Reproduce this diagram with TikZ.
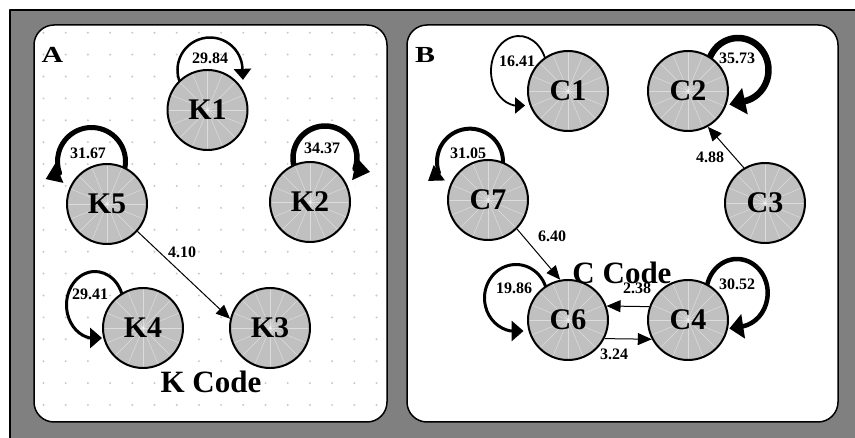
\documentclass[tikz,border=0pt]{standalone}
\usepackage{fontspec}
\setmainfont{Liberation Serif}
\usetikzlibrary{arrows.meta}
\definecolor{bggray}{RGB}{128,128,128}
\definecolor{nodegray}{RGB}{192,192,192}
\definecolor{dotgray}{RGB}{200,200,200}
\begin{document}
\begin{tikzpicture}[x=1pt,y=-1pt,line join=round,
  state/.style={circle, draw=black, line width=2pt, fill=nodegray, minimum size=80pt, inner sep=0pt,
    font=\bfseries\fontsize{30}{30}\selectfont,
    path picture={\foreach \a in {0,22.5,...,337.5}{\draw[white,opacity=0.45,line width=0.5pt] (path picture bounding box.center) -- +(\a:45pt);}}},
  wlabel/.style={font=\bfseries\fontsize{16}{16}\selectfont, inner sep=0pt},
  codelabel/.style={font=\bfseries\fontsize{31}{31}\selectfont, inner sep=0pt, anchor=base},
  panellabel/.style={font=\bfseries\fontsize{23}{23}\selectfont, inner sep=0pt, xscale=1.3},
  edge/.style={draw=black, line width=1pt, -{Triangle[length=14pt,width=12pt]}},
  panel/.style={draw=black, line width=1.5pt, fill=white, rounded corners=20pt},
  glow/.style={fill=white},
]
\useasboundingbox (0,0) rectangle (855,438);
% background
\fill[white] (0,0) rectangle (855,438);
\fill[bggray] (10,10) rectangle (860,445);
\draw[black, line width=2pt] (10,445) -- (10,10) -- (860,10);
% panels
\path[panel] (34,25) rectangle (387,422);
\path[panel] (407,25) rectangle (838,422);
% dots in panel A
\foreach \i in {0,...,15}{\foreach \j in {0,...,17}{\fill[dotgray] (43.5+22.2*\i,32.7+21.9*\j) circle[radius=1.1];}}
% glows
\foreach \p in {(207.5,110),(310,202),(270,328),(143,328),(107,204),(568,91),(688,91),(765,203),(688,320),(568,320),(488,200)}{\fill[glow] \p ++(2,3) circle[radius=47];}
% code labels
\node[codelabel] (kcode) at (211,393) {K Code};
\node[codelabel] (ccode) at (622,284) {C Code};
% nodes (placed to get names), drawn later on top via redraw
\path (207.5,110) coordinate (pK1) (310,202) coordinate (pK2) (270,328) coordinate (pK3)
      (143,328) coordinate (pK4) (107,204) coordinate (pK5)
      (568,91) coordinate (pC1) (688,91) coordinate (pC2) (765,203) coordinate (pC3)
      (688,320) coordinate (pC4) (568,320) coordinate (pC6) (488,200) coordinate (pC7);
% self loops
\draw[line width=2.5pt, -{Triangle[length=11pt,width=17pt]}] ([shift={(2.5,-40)}]pK1) ++(158:32.5) arc[start angle=158, end angle=358, radius=32.5] -- ++(0.5,11);
\draw[line width=5pt, -{Triangle[length=15pt,width=20pt]}] ([shift={(-15.5,-42.5)}]pK5) ++(15:34) arc[start angle=15, end angle=-200, radius=34] -- ++(-14,6);
\draw[line width=5.5pt, -{Triangle[length=16pt,width=22pt]}] ([shift={(15,-44)}]pK2) ++(165:32) arc[start angle=165, end angle=380, radius=32] -- ++(15,3);
\draw[line width=3pt, -{Triangle[length=12pt,width=20pt]}] ([shift={(-48,-23)}]pK4) ++(345:28.5 and 33.5) arc[start angle=345, end angle=100, x radius=28.5, y radius=33.5] -- ++(12,0);
\draw[line width=1.8pt, -{Triangle[length=10pt,width=16pt]}] ([shift={(-49,-20)}]pC1) ++(345:28 and 35) arc[start angle=345, end angle=100, x radius=28, y radius=35] -- ++(11,0);
\draw[line width=3pt, -{Triangle[length=12pt,width=20pt]}] ([shift={(-52,-22)}]pC6) ++(345:31.5 and 33.5) arc[start angle=345, end angle=100, x radius=31.5, y radius=33.5] -- ++(13,0);
\draw[line width=6.5pt, -{Triangle[length=16pt,width=26pt]}] ([shift={(50,-21)}]pC2) ++(200:30.5 and 32) arc[start angle=200, end angle=440, x radius=30.5, y radius=32] -- ++(-14,3);
\draw[line width=4.5pt, -{Triangle[length=14pt,width=24pt]}] ([shift={(49,-27)}]pC4) ++(190:30.7 and 34) arc[start angle=190, end angle=440, x radius=30.7, y radius=34] -- ++(-13,2);
\draw[line width=4pt, -{Triangle[length=14pt,width=18pt]}] ([shift={(-18,-38.3)}]pC7) ++(8:33) arc[start angle=8, end angle=-200, radius=33] -- ++(-11,8);
% nodes
\node[state] (K1) at (pK1) {K1};
\node[state] (K2) at (pK2) {K2};
\node[state] (K3) at (pK3) {K3};
\node[state] (K4) at (pK4) {K4};
\node[state] (K5) at (pK5) {K5};
\node[state] (C1) at (pC1) {C1};
\node[state] (C2) at (pC2) {C2};
\node[state] (C3) at (pC3) {C3};
\node[state] (C4) at (pC4) {C4};
\node[state] (C6) at (pC6) {C6};
\node[state] (C7) at (pC7) {C7};
% edges
\draw[edge] (K5.-42) -- (K3.167);
\draw[edge] (C3.121) -- (C2.-61);
\draw[edge] (C7.-45) -- (C6.101);
\draw[edge] (C4.161) -- (C6.20);
\draw[edge] (C6.-27) -- (C4.-152);
% weight labels
\node[wlabel] (w1) at (210,58) {29.84};
\node[wlabel] (w2) at (88,153) {31.67};
\node[wlabel] (w3) at (322,148) {34.37};
\node[wlabel] (w4) at (90,294) {29.41};
\node[wlabel] (w5) at (182,252) {4.10};
\node[wlabel] (w6) at (517,61) {16.41};
\node[wlabel] (w7) at (737,58) {35.73};
\node[wlabel] (w8) at (468,153) {31.05};
\node[wlabel] (w9) at (710,157) {4.88};
\node[wlabel] (w10) at (552,236) {6.40};
\node[wlabel] (w11) at (514,288) {19.86};
\node[wlabel] (w12) at (737,284) {30.52};
\node[wlabel] (w13) at (637,288) {2.38};
\node[wlabel] (w14) at (614,354) {3.24};
% panel labels
\node[panellabel] (pa) at (52.5,54.5) {A};
\node[panellabel] (pb) at (425,55.5) {B};
\end{tikzpicture}
\end{document}
